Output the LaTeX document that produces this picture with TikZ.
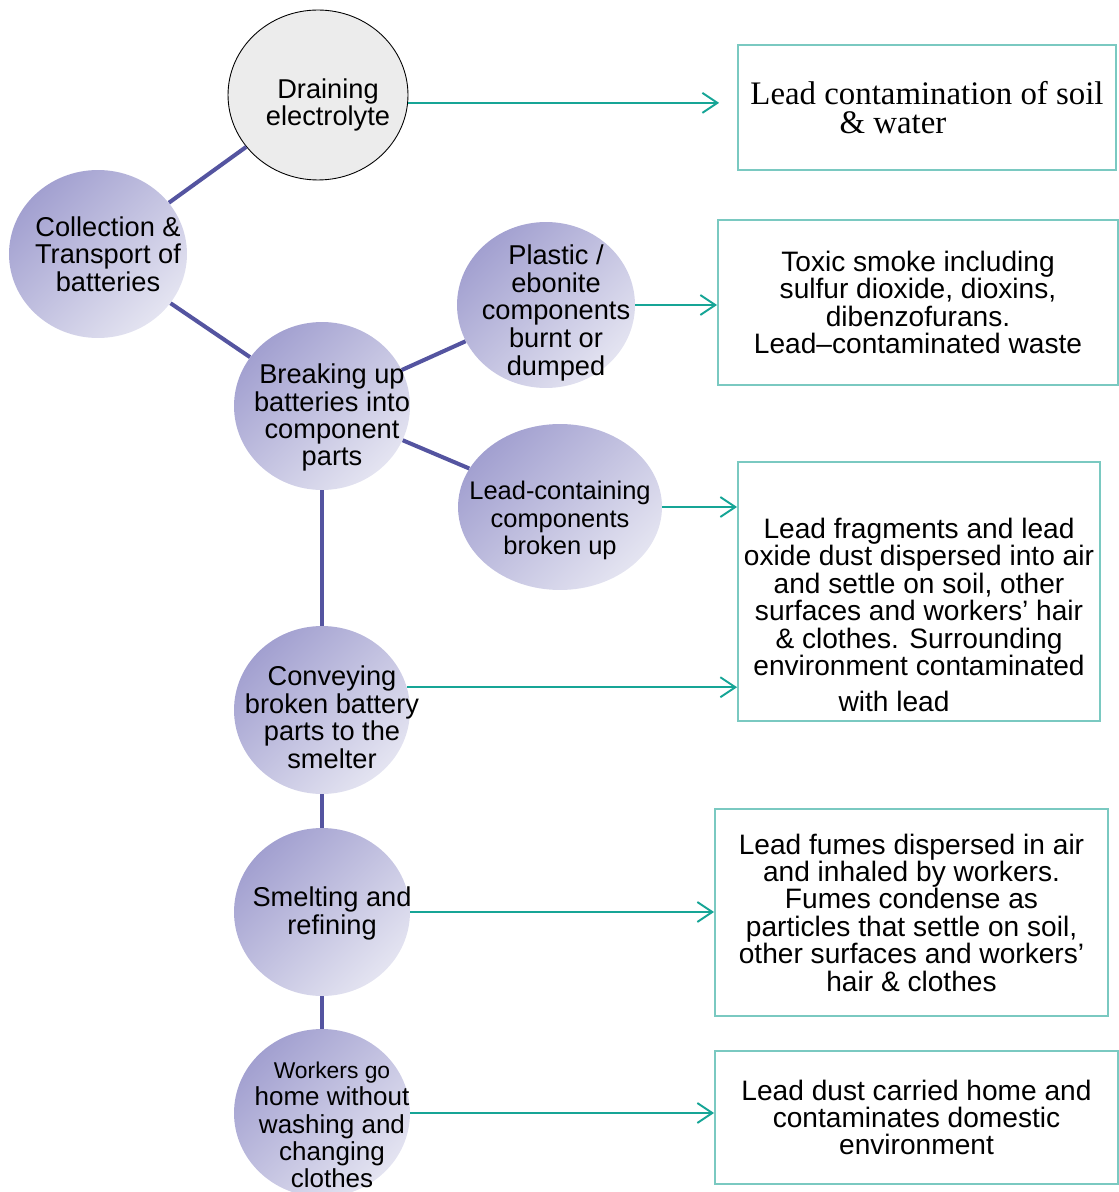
\documentclass[tikz,border=0pt]{standalone}
\usepackage{fontspec}
\setmainfont{Liberation Sans}
\newfontfamily\timesfont{Liberation Serif}
\usetikzlibrary{shapes.geometric,arrows.meta}

\definecolor{lavdark}{RGB}{162,160,208}
\definecolor{lavlight}{RGB}{228,228,241}
\definecolor{linkblue}{RGB}{84,84,160}
\definecolor{arrowteal}{RGB}{22,165,150}
\definecolor{boxteal}{RGB}{122,201,193}
\definecolor{drainfill}{RGB}{236,236,236}

% text set inside an ellipse without making it grow
\newcommand{\intext}[2][-8pt]{\makebox[0pt]{\hspace{0.4cm}\raisebox{#1}[0pt][0pt]{\begin{tabular}{@{}c@{}}#2\end{tabular}}}}

\tikzset{
  stage/.style={ellipse, inner sep=0pt, minimum width=3.52cm, minimum height=3.36cm,
    font=\fontsize{15.5}{15.5}\selectfont},
  lav/.style={top color=lavdark, bottom color=lavlight, shading angle=45},
  effect/.style={draw=boxteal, line width=1.1pt, inner sep=0pt, align=center,
    font=\fontsize{16}{15.6}\selectfont},
  link/.style={draw=linkblue, line width=2.3pt},
  flow/.style={draw=arrowteal, line width=1.1pt, -{Straight Barb[length=0.3cm,width=0.4cm]}},
}

\begin{document}
\begin{tikzpicture}[x=0.02cm, y=-0.02cm]
	\useasboundingbox (0,0) rectangle (1118,1192);
	
	% process stages
	\node[stage, draw=black, line width=0.5pt, fill=drainfill,
	minimum width=3.6cm, minimum height=3.4cm] (drain) at (318,95)
	{\intext[-10pt]{Draining\\electrolyte}};
	\node[stage, lav, minimum width=3.56cm] (collect) at (98,254)
	{\intext[-6pt]{Collection \&\\Transport of\\batteries}};
	\node[stage, lav] (breaking) at (322,406)
	{\intext[-11pt]{Breaking up\\batteries into\\component\\parts}};
	\node[stage, lav, minimum width=3.56cm, minimum height=3.32cm] (plastic) at (546,305)
	{\intext[-9pt]{Plastic /\\ebonite\\components\\burnt or\\dumped}};
	\node[stage, lav, minimum width=4.08cm, minimum height=3.32cm,
	font=\fontsize{14.5}{15.5}\selectfont] (leadcont) at (560,507)
	{\makebox[0pt]{\hspace{-0.4cm}\intext[-12pt]{Lead-containing\\components\\broken up}}};
	\node[stage, lav] (convey) at (322,710)
	{\intext[-10pt]{Conveying\\broken battery\\parts to the\\smelter}};
	\node[stage, lav] (smelt) at (322,912)
	{\intext[-5pt]{Smelting and\\refining}};
	\node[stage, lav, font=\fontsize{14.8}{15.5}\selectfont] (workers) at (322,1113)
	{\intext[-12pt]{{\fontsize{13}{13}\selectfont Workers go}\\home without\\washing and\\changing\\clothes}};
	
	% effects
	\node[effect, minimum width=7.56cm, minimum height=2.5cm,
	font=\timesfont\fontsize{18.7}{16.5}\selectfont] (soilbox) at (927,107.5)
	{Lead contamination of soil\\\hspace*{-1.36cm}\& water};
	\node[effect, minimum width=8cm, minimum height=3.3cm] (smokebox) at (918,302.5)
	{Toxic smoke including\\sulfur dioxide, dioxins,\\dibenzofurans.\\Lead–contaminated waste};
	\node[effect, minimum width=7.24cm, minimum height=5.18cm] (dustbox) at (919,591.5)
	{\rule{0pt}{1.35cm}Lead fragments and lead\\oxide dust dispersed into air\\and settle on soil, other\\surfaces and workers’ hair\\\& clothes. Surrounding\\environment contaminated\\[5pt]\hspace*{-1cm}with lead};
	\node[effect, minimum width=7.86cm, minimum height=4.14cm] (fumebox) at (911.5,912.5)
	{Lead fumes dispersed in air\\and inhaled by workers.\\Fumes condense as\\particles that settle on soil,\\other surfaces and workers’\\hair \& clothes};
	\node[effect, minimum width=8.06cm, minimum height=2.66cm] (homebox) at (916.5,1117.5)
	{Lead dust carried home and\\contaminates domestic\\environment};
	
	% links between stages
	\draw[link] (drain) -- (collect);
	\draw[link] (collect) -- (breaking);
	\draw[link] (breaking) -- (plastic);
	\draw[link] (breaking) -- (leadcont);
	\draw[link] (breaking) -- (convey);
	\draw[link] (convey) -- (smelt);
	\draw[link] (smelt) -- (workers);
	
	% arrows to effects
	\draw[flow, shorten >=0.36cm] (drain.-5) -- (drain.-5 -| soilbox.west);
	\draw[flow] (plastic.east) -- (plastic.east -| smokebox.west);
	\draw[flow] (leadcont.east) -- (leadcont.east -| dustbox.west);
	\draw[flow] (convey.15) -- (convey.15 -| dustbox.west);
	\draw[flow] (smelt.east) -- (smelt.east -| fumebox.west);
	\draw[flow] (workers.east) -- (workers.east -| homebox.west);
	
\end{tikzpicture}
\end{document}
